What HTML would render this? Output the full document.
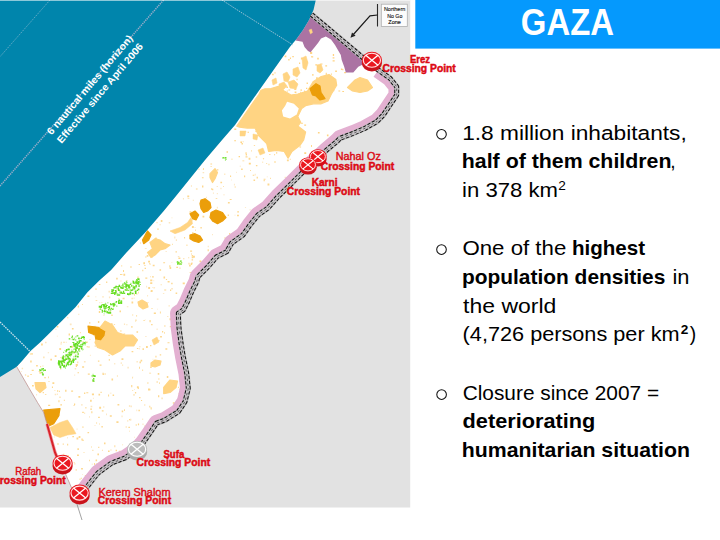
<!DOCTYPE html>
<html><head><meta charset="utf-8"><title>GAZA</title>
<style>
html,body{margin:0;padding:0;background:#fff;}
body{width:720px;height:540px;overflow:hidden;font-family:"Liberation Sans",sans-serif;}
svg{display:block;}
</style></head><body>
<svg width="720" height="540" viewBox="0 0 720 540" font-family="'Liberation Sans', sans-serif">
<defs>
<clipPath id="mapclip"><rect x="0" y="0" width="410.2" height="507.4"/></clipPath>
<clipPath id="landclip"><polygon points="311.5,14.5 309,20 303,30 296.5,39 290,46.7 282,58 270,75 258,92 246,109 235,125 222,140 205,160 188.9,180 176,196 163.7,211 145.6,231.9 126,253 111.1,270 99.3,280.4 87.4,292.2 75.6,307 62.2,320.4 48.9,333.7 40,342.6 30.5,351 22,361 16.7,366.7 28.7,387.5 37.5,402.5 43.7,412.5 48.7,430 55,452.5 66,475 72.5,490 83,492 90,483 98,473 111.7,463 125,458 136.7,450 143,443 150,433 156.7,423 165,420 178.3,411.7 185,401.7 188.3,388.3 186.7,373.3 183.3,356.7 181,343 179,328 178.3,313.3 183.3,310 187.5,301.7 191.7,291.7 196.7,281.7 198,276.7 208,266.7 216.7,256.7 226.7,251.7 231.7,243 243,235 250,225 258,215 268,208 278,196.7 290,185 300,175 308,167 318,158 326.7,150 336.7,141.7 340,138.3 353.3,133.3 365,128.3 376.7,121.7 383.3,115 390,105 396.7,95 396.7,86.7 390,78.3 378.3,70 371,64.5"/></clipPath>
<pattern id="gp" width="4" height="4" patternUnits="userSpaceOnUse">
<rect width="4" height="4" fill="#ffffff"/>
<rect x="0" y="0" width="2" height="1.6" fill="#66dd22"/><rect x="2.2" y="2" width="1.6" height="1.8" fill="#66dd22"/><rect x="0.6" y="2.6" width="1" height="1" fill="#a5e36f"/>
</pattern>
</defs>
<rect width="720" height="540" fill="#ffffff"/>
<g clip-path="url(#mapclip)">
<rect x="0" y="0" width="411" height="508" fill="#e2e2e2"/>
<polygon points="311.5,14.5 309,20 303,30 296.5,39 290,46.7 282,58 270,75 258,92 246,109 235,125 222,140 205,160 188.9,180 176,196 163.7,211 145.6,231.9 126,253 111.1,270 99.3,280.4 87.4,292.2 75.6,307 62.2,320.4 48.9,333.7 40,342.6 30.5,351 22,361 16.7,366.7 28.7,387.5 37.5,402.5 43.7,412.5 48.7,430 55,452.5 66,475 72.5,490 83,492 90,483 98,473 111.7,463 125,458 136.7,450 143,443 150,433 156.7,423 165,420 178.3,411.7 185,401.7 188.3,388.3 186.7,373.3 183.3,356.7 181,343 179,328 178.3,313.3 183.3,310 187.5,301.7 191.7,291.7 196.7,281.7 198,276.7 208,266.7 216.7,256.7 226.7,251.7 231.7,243 243,235 250,225 258,215 268,208 278,196.7 290,185 300,175 308,167 318,158 326.7,150 336.7,141.7 340,138.3 353.3,133.3 365,128.3 376.7,121.7 383.3,115 390,105 396.7,95 396.7,86.7 390,78.3 378.3,70 371,64.5" fill="#ffffff"/>
<path d="M77.4,448.2h1.5v1.8h-1.5zM49.1,413.0h1.5v1.3h-1.5zM82.0,303.9h0.8v1.1h-0.8zM53.9,421.3h1.3v0.9h-1.3zM75.8,366.1h1.2v0.9h-1.2zM38.7,370.9h1.3v1.0h-1.3zM178.2,407.7h1.6v2.0h-1.6zM132.2,314.6h1.0v0.9h-1.0zM164.4,325.2h1.0v1.6h-1.0zM162.0,330.9h1.2v1.5h-1.2zM83.5,452.0h1.0v0.8h-1.0zM117.5,403.9h1.8v1.7h-1.8zM105.0,373.4h0.9v1.1h-0.9zM120.0,274.0h1.7v0.9h-1.7zM95.6,300.2h1.7v0.7h-1.7zM155.4,355.8h1.1v1.6h-1.1zM108.5,354.8h1.2v1.3h-1.2zM134.6,450.8h2.0v0.9h-2.0zM70.9,360.0h1.5v1.2h-1.5zM75.7,364.1h2.1v2.0h-2.1zM159.5,269.2h1.6v1.6h-1.6zM71.1,390.4h2.0v1.4h-2.0zM131.3,325.9h1.2v1.9h-1.2zM136.7,361.0h0.8v1.6h-0.8zM84.0,392.6h1.3v1.4h-1.3zM117.1,348.9h0.9v1.0h-0.9zM173.1,384.9h0.9v1.9h-0.9zM111.3,314.6h1.4v1.5h-1.4zM59.0,390.7h0.9v1.4h-0.9zM121.2,274.0h1.3v0.8h-1.3zM95.6,459.6h1.5v1.7h-1.5zM150.2,282.2h2.1v1.7h-2.1zM87.4,295.6h2.0v1.5h-2.0zM153.3,287.4h1.8v0.8h-1.8zM60.7,343.2h0.7v1.5h-0.7zM56.7,326.1h1.7v1.3h-1.7zM172.8,402.2h1.9v1.5h-1.9zM78.7,436.0h1.7v1.9h-1.7zM41.1,343.4h1.7v2.0h-1.7zM144.1,265.3h1.5v0.8h-1.5zM114.4,445.3h0.9v2.0h-0.9zM136.1,315.3h1.0v1.3h-1.0zM164.2,392.8h0.9v0.7h-0.9zM51.9,386.4h1.1v1.7h-1.1zM170.6,382.6h1.7v1.8h-1.7zM183.2,258.3h1.2v0.9h-1.2zM106.3,461.9h1.8v0.7h-1.8zM136.9,348.0h1.4v0.9h-1.4zM165.4,348.2h1.9v1.6h-1.9zM121.3,265.3h0.9v1.2h-0.9zM100.5,391.8h1.2v1.2h-1.2zM135.4,319.6h1.1v1.4h-1.1zM65.1,389.8h1.4v2.0h-1.4zM190.7,263.1h1.5v1.8h-1.5zM128.9,405.4h1.2v1.1h-1.2zM72.3,435.9h1.7v1.4h-1.7zM129.3,338.1h1.5v1.3h-1.5zM75.6,489.3h1.4v1.2h-1.4zM97.9,360.6h1.5v1.1h-1.5zM71.9,328.1h1.7v1.5h-1.7zM178.5,393.3h0.8v1.0h-0.8zM81.4,438.5h1.3v1.9h-1.3zM31.7,369.8h2.0v1.1h-2.0zM141.2,306.7h1.3v1.0h-1.3zM131.5,301.6h1.7v2.0h-1.7zM123.4,273.8h1.8v1.9h-1.8zM52.4,382.3h1.9v1.6h-1.9zM178.7,305.3h1.2v1.7h-1.2zM131.6,351.1h1.7v1.2h-1.7zM29.9,353.2h0.8v1.6h-0.8zM77.5,372.2h1.5v1.1h-1.5zM179.1,388.7h2.1v0.8h-2.1zM125.6,426.6h1.2v0.8h-1.2zM152.0,276.3h1.8v1.3h-1.8zM112.6,394.5h1.5v1.6h-1.5zM123.5,333.4h1.7v1.1h-1.7zM142.4,435.9h1.8v1.1h-1.8zM97.9,320.9h1.4v2.0h-1.4zM101.8,410.3h1.8v1.2h-1.8zM150.1,276.3h0.7v0.9h-0.7zM30.3,373.9h1.5v1.0h-1.5zM153.8,312.5h2.1v1.4h-2.1zM129.4,336.6h1.8v1.3h-1.8zM75.7,469.1h0.9v1.7h-0.9zM89.1,459.8h0.8v1.5h-0.8zM90.5,472.8h2.0v1.6h-2.0zM65.1,357.8h1.0v1.0h-1.0zM150.6,407.3h1.1v2.1h-1.1zM57.3,390.0h0.9v1.9h-0.9zM169.5,318.3h1.8v1.9h-1.8zM68.6,333.6h1.4v1.9h-1.4zM47.8,416.8h1.5v1.3h-1.5zM82.0,439.8h1.9v1.0h-1.9zM137.4,276.4h1.2v2.0h-1.2zM188.5,262.8h1.0v1.8h-1.0zM138.6,264.0h1.4v1.0h-1.4zM74.4,463.2h0.9v1.4h-0.9zM43.4,356.5h1.0v1.7h-1.0zM106.1,281.6h1.2v1.4h-1.2zM178.0,337.8h1.0v2.1h-1.0zM27.4,375.6h1.3v1.5h-1.3zM138.4,409.8h1.5v1.5h-1.5zM88.7,330.4h1.3v2.1h-1.3zM86.6,346.3h1.3v0.9h-1.3zM191.7,256.2h1.6v2.0h-1.6zM63.8,399.8h1.2v1.0h-1.2zM176.3,266.7h1.7v1.2h-1.7zM131.2,385.1h1.1v2.1h-1.1zM166.8,375.9h1.5v2.1h-1.5zM60.3,404.2h1.7v1.2h-1.7zM142.5,348.3h1.4v1.6h-1.4zM136.5,331.3h1.6v1.5h-1.6zM58.4,400.2h1.1v2.0h-1.1zM101.4,426.0h1.4v1.4h-1.4zM179.5,380.3h1.4v1.4h-1.4zM159.9,311.6h0.9v1.9h-0.9zM99.2,406.8h1.9v2.0h-1.9zM169.3,265.3h1.2v1.9h-1.2zM160.7,284.2h0.9v1.1h-0.9zM158.2,378.6h1.3v0.8h-1.3zM139.5,361.5h1.4v1.8h-1.4zM150.5,290.5h1.7v1.2h-1.7zM109.6,311.3h1.2v1.2h-1.2zM54.5,390.2h0.8v0.9h-0.8zM143.5,320.1h1.2v1.0h-1.2zM163.5,276.6h1.6v1.9h-1.6zM54.7,355.3h1.8v1.6h-1.8zM96.1,342.0h1.7v1.1h-1.7zM90.2,408.6h1.8v1.2h-1.8zM86.3,392.2h2.0v1.0h-2.0zM84.0,412.7h1.2v0.8h-1.2zM150.0,344.9h1.4v1.4h-1.4zM99.6,364.5h1.9v1.3h-1.9zM101.5,466.0h1.3v1.4h-1.3zM108.0,450.4h1.6v1.7h-1.6zM136.9,386.3h1.8v1.8h-1.8zM149.6,388.8h0.8v1.7h-0.8zM142.3,369.4h0.8v1.7h-0.8zM91.9,393.4h2.1v1.8h-2.1zM170.0,289.5h1.2v1.4h-1.2zM67.2,317.2h1.1v1.1h-1.1zM167.7,386.7h1.4v1.3h-1.4zM167.3,315.9h1.0v0.8h-1.0zM112.3,343.6h1.3v1.4h-1.3zM120.4,341.7h1.8v1.0h-1.8zM178.1,386.8h0.8v1.1h-0.8zM111.7,351.9h1.5v1.2h-1.5zM67.1,443.7h1.1v1.7h-1.1zM158.0,395.3h1.3v2.0h-1.3zM96.5,463.1h0.8v1.3h-0.8zM130.0,266.6h1.9v0.8h-1.9zM122.6,297.7h2.0v1.5h-2.0zM157.7,373.1h1.6v1.6h-1.6zM164.2,289.5h2.0v1.0h-2.0zM91.3,411.2h1.1v2.0h-1.1zM138.0,291.7h0.8v1.7h-0.8zM120.1,330.5h1.5v0.9h-1.5zM176.8,331.9h1.9v0.9h-1.9zM85.4,406.9h1.0v1.5h-1.0zM36.1,365.1h1.7v1.3h-1.7zM136.8,282.1h1.9v0.9h-1.9zM181.6,379.7h1.1v1.2h-1.1zM149.1,372.7h2.0v0.8h-2.0zM103.4,459.8h1.5v1.5h-1.5zM66.6,466.7h1.9v1.0h-1.9zM179.0,262.7h1.5v2.1h-1.5zM79.2,478.8h1.6v0.8h-1.6zM77.3,361.6h1.0v1.7h-1.0zM116.2,277.7h1.5v1.8h-1.5zM122.4,364.4h0.7v1.4h-0.7zM42.7,392.0h1.2v1.2h-1.2zM134.1,293.8h0.9v2.0h-0.9zM77.0,454.6h1.9v1.4h-1.9zM171.2,282.7h1.4v1.5h-1.4zM40.2,365.9h0.9v1.4h-0.9zM107.2,342.0h1.0v1.3h-1.0zM61.3,461.6h1.4v1.9h-1.4zM104.0,442.5h1.5v1.7h-1.5zM59.4,432.8h0.9v1.1h-0.9zM109.1,324.2h1.9v0.8h-1.9zM119.5,310.4h1.5v1.8h-1.5zM142.3,269.7h1.0v1.5h-1.0zM189.1,264.8h1.6v1.7h-1.6zM160.1,336.1h1.8v1.3h-1.8zM178.4,257.6h2.0v1.3h-2.0zM62.1,428.9h1.7v0.9h-1.7zM76.9,486.3h2.1v1.8h-2.1zM102.5,372.9h1.8v2.0h-1.8zM149.3,405.8h1.0v1.6h-1.0zM148.2,287.0h1.9v2.0h-1.9zM121.5,358.2h1.9v1.8h-1.9zM169.8,325.9h2.0v1.4h-2.0zM182.7,282.5h2.1v1.8h-2.1zM63.3,453.7h1.0v1.0h-1.0zM98.8,311.1h1.4v2.0h-1.4zM137.9,423.4h1.2v1.8h-1.2zM156.5,416.8h2.0v1.9h-2.0zM78.4,396.0h1.9v1.8h-1.9zM20.8,370.9h0.7v0.9h-0.7zM159.7,354.2h1.5v1.3h-1.5zM77.7,305.6h1.2v1.9h-1.2zM126.5,324.2h0.8v1.1h-0.8zM140.6,359.8h1.6v1.8h-1.6zM87.8,373.4h2.0v1.4h-2.0zM162.9,293.4h1.4v0.7h-1.4zM98.2,446.8h1.1v1.2h-1.1zM37.4,386.0h1.9v1.4h-1.9zM84.8,475.1h2.0v1.6h-2.0zM82.2,411.7h1.6v1.2h-1.6zM109.8,415.3h2.0v1.4h-2.0zM82.6,486.4h0.8v1.9h-0.8zM137.6,387.1h1.3v1.8h-1.3zM149.0,263.3h1.2v0.9h-1.2zM44.9,394.2h1.5v0.8h-1.5zM87.5,432.1h1.6v1.1h-1.6zM151.1,324.0h1.5v1.3h-1.5zM158.4,415.3h1.2v2.0h-1.2zM142.1,418.7h1.1v0.9h-1.1zM118.9,450.7h1.8v1.2h-1.8zM44.1,377.3h1.9v0.9h-1.9zM147.0,295.5h1.1v0.8h-1.1zM71.2,345.8h2.1v2.0h-2.1zM182.3,301.8h1.1v1.3h-1.1zM87.8,346.4h2.0v1.1h-2.0zM97.4,453.4h1.6v1.8h-1.6zM150.2,366.4h1.5v1.6h-1.5zM149.5,320.3h1.2v2.0h-1.2zM111.0,323.3h1.6v1.1h-1.6zM152.7,264.8h1.9v1.5h-1.9zM80.8,477.8h1.1v1.0h-1.1zM32.0,385.0h1.8v1.6h-1.8zM91.0,446.4h0.9v1.1h-0.9zM129.0,419.0h1.8v1.3h-1.8zM78.8,348.0h1.8v1.2h-1.8zM111.5,378.5h1.6v2.0h-1.6zM31.3,352.9h1.4v1.9h-1.4zM134.9,391.9h1.3v1.5h-1.3zM67.1,455.2h1.8v1.9h-1.8zM46.0,414.2h1.8v1.4h-1.8zM141.0,400.1h1.1v0.8h-1.1zM123.8,450.3h1.1v1.0h-1.1zM158.0,340.3h1.7v0.8h-1.7zM164.2,332.1h0.7v1.6h-0.7zM30.2,360.6h1.5v1.8h-1.5zM128.3,335.6h1.2v1.5h-1.2zM57.5,443.1h1.0v1.9h-1.0zM159.1,382.3h0.7v1.8h-0.7zM24.9,374.6h1.3v0.8h-1.3zM128.4,426.7h1.5v1.3h-1.5zM108.1,394.5h1.0v1.9h-1.0zM189.6,271.9h1.4v0.9h-1.4zM98.1,416.8h1.7v1.3h-1.7zM89.3,322.0h1.0v1.7h-1.0zM108.8,359.0h1.0v1.7h-1.0zM116.4,421.2h2.1v1.7h-2.1zM144.3,425.5h0.8v1.0h-0.8zM144.2,404.4h1.1v1.2h-1.1zM48.1,404.8h2.1v1.1h-2.1zM81.1,468.1h1.8v1.3h-1.8zM101.9,449.8h0.9v0.9h-0.9zM116.9,375.4h1.0v1.1h-1.0zM146.0,346.0h1.8v1.9h-1.8zM56.8,393.7h1.2v0.7h-1.2zM172.9,381.6h0.8v1.2h-0.8zM103.3,406.6h1.0v1.0h-1.0zM175.8,345.7h0.8v1.5h-0.8zM98.5,393.8h1.6v1.7h-1.6zM144.6,267.7h1.4v1.3h-1.4zM135.7,424.2h1.0v1.6h-1.0zM139.0,366.8h0.9v2.0h-0.9zM123.0,269.9h1.0v2.1h-1.0zM59.3,348.0h1.8v1.9h-1.8zM129.0,430.8h0.8v0.8h-0.8zM57.8,414.2h2.0v1.6h-2.0zM178.1,317.3h0.9v0.7h-0.9zM150.2,279.6h2.1v1.7h-2.1zM48.0,376.4h0.8v1.8h-0.8zM115.6,449.7h1.4v1.6h-1.4zM122.3,444.5h0.8v0.8h-0.8zM113.8,324.0h1.3v0.7h-1.3zM148.1,260.7h1.9v1.8h-1.9zM98.8,284.0h1.6v1.0h-1.6zM165.9,279.0h1.2v1.1h-1.2zM151.1,290.0h1.5v2.1h-1.5zM152.2,256.6h0.8v0.9h-0.8zM139.1,396.9h1.4v1.3h-1.4zM90.1,399.8h1.6v2.0h-1.6zM143.3,262.3h1.7v1.9h-1.7zM94.1,463.1h1.0v2.0h-1.0zM96.0,422.4h1.1v1.1h-1.1zM79.9,331.9h0.8v1.3h-0.8zM149.5,320.0h1.0v1.3h-1.0zM76.5,437.6h1.8v1.9h-1.8zM156.7,381.1h0.8v1.9h-0.8zM74.0,403.6h1.2v1.5h-1.2zM186.1,293.2h1.4v1.6h-1.4zM90.1,471.6h1.7v2.1h-1.7zM69.4,469.8h0.7v1.1h-0.7zM50.3,358.8h1.7v1.7h-1.7zM148.3,433.5h1.0v1.1h-1.0zM121.7,410.5h1.5v1.7h-1.5zM39.4,372.0h2.1v1.7h-2.1zM67.0,437.4h0.9v0.8h-0.9zM72.1,351.9h1.7v1.3h-1.7zM145.3,277.5h2.0v1.2h-2.0zM163.2,262.3h1.9v1.0h-1.9zM135.4,320.8h0.7v1.0h-0.7zM175.6,292.5h1.6v1.5h-1.6zM133.7,297.8h0.9v0.8h-0.9zM132.2,390.0h1.0v0.8h-1.0zM82.5,426.3h0.9v1.8h-0.9zM63.3,341.8h1.4v0.9h-1.4zM62.7,443.6h1.1v1.2h-1.1zM151.5,308.1h1.0v1.0h-1.0zM86.1,341.6h1.6v1.4h-1.6zM169.6,267.0h1.6v1.9h-1.6zM99.1,423.6h0.8v0.9h-0.8zM102.5,296.2h1.0v1.3h-1.0zM82.1,366.2h2.0v1.5h-2.0zM148.0,388.4h1.9v2.0h-1.9zM167.6,281.1h2.0v1.4h-2.0zM168.7,305.3h0.8v1.1h-0.8zM178.9,364.2h1.7v0.8h-1.7zM97.9,330.3h1.0v1.6h-1.0zM132.3,377.0h0.7v1.4h-0.7zM147.4,382.3h1.0v1.4h-1.0zM124.0,409.3h0.9v1.8h-0.9zM167.5,342.2h2.0v1.0h-2.0zM59.0,396.7h2.0v0.8h-2.0zM95.5,288.3h1.0v1.7h-1.0z" fill="#fdd88f"/>
<path d="M89.1,416.0h0.7v1.7h-0.7zM60.1,368.1h1.3v1.7h-1.3zM126.8,306.3h1.6v0.9h-1.6zM75.3,351.5h1.1v1.4h-1.1zM64.3,362.6h1.3v1.5h-1.3zM109.8,392.8h1.7v0.8h-1.7zM120.7,362.2h1.1v1.7h-1.1zM182.0,351.6h0.8v1.7h-0.8zM69.8,323.5h1.8v1.7h-1.8zM92.3,380.5h1.6v1.6h-1.6zM132.4,376.5h0.8v1.0h-0.8zM133.2,394.0h1.6v1.7h-1.6zM185.5,300.7h0.8v1.7h-0.8zM118.1,298.0h1.5v1.0h-1.5zM60.7,341.8h1.3v1.4h-1.3zM127.4,366.8h1.4v1.6h-1.4zM21.7,367.7h1.4v1.5h-1.4zM131.4,297.7h1.8v1.6h-1.8zM60.1,357.1h1.8v0.9h-1.8zM174.8,310.1h1.5v1.1h-1.5zM134.1,436.8h0.8v0.9h-0.8zM89.9,354.7h0.8v1.3h-0.8zM182.1,391.7h1.1v1.5h-1.1zM95.2,296.6h1.2v0.7h-1.2zM136.3,293.1h1.1v1.8h-1.1zM130.4,405.4h1.5v1.8h-1.5zM53.8,436.6h1.0v1.0h-1.0zM161.3,397.5h1.6v1.7h-1.6zM121.3,302.0h0.7v1.3h-0.7zM144.8,319.6h0.8v0.7h-0.8zM49.8,419.9h0.7v1.0h-0.7zM65.6,423.5h1.8v0.7h-1.8zM186.8,290.2h1.1v1.3h-1.1zM75.1,353.9h1.2v1.0h-1.2zM127.3,420.1h1.0v1.6h-1.0zM145.3,336.0h1.2v0.9h-1.2zM179.8,387.8h0.8v0.9h-0.8zM139.1,346.3h1.5v1.0h-1.5zM36.2,393.9h0.9v1.5h-0.9zM134.1,388.9h0.9v0.9h-0.9zM120.2,280.6h1.4v1.0h-1.4zM64.5,355.4h1.3v1.5h-1.3zM130.0,418.8h1.4v1.7h-1.4zM55.2,328.7h1.4v1.0h-1.4zM156.6,328.4h1.0v1.5h-1.0zM108.4,290.8h1.7v1.7h-1.7zM99.4,301.9h0.8v1.3h-0.8zM109.7,341.0h1.5v1.3h-1.5zM153.4,280.2h0.8v1.1h-0.8zM103.2,314.9h1.4v0.9h-1.4zM74.7,368.0h1.5v1.5h-1.5zM83.9,360.9h1.7v1.7h-1.7zM126.4,279.9h1.2v1.4h-1.2zM42.2,365.4h1.4v1.0h-1.4zM152.6,358.7h0.8v1.1h-0.8zM152.1,287.0h0.8v0.8h-0.8zM48.2,381.0h1.6v0.9h-1.6zM93.2,335.1h0.8v1.0h-0.8zM187.1,282.7h1.0v1.5h-1.0zM123.9,323.4h1.2v1.5h-1.2zM146.2,285.7h0.9v1.8h-0.9zM78.3,313.8h1.0v1.2h-1.0zM190.4,290.2h1.6v1.1h-1.6zM49.7,431.5h1.1v0.9h-1.1zM92.0,449.7h1.6v1.3h-1.6zM65.7,341.7h1.1v1.1h-1.1zM90.6,405.7h1.7v1.5h-1.7zM145.2,433.9h1.6v1.0h-1.6zM132.8,345.2h1.6v0.8h-1.6zM112.7,334.7h1.6v1.1h-1.6zM171.2,288.0h1.7v1.5h-1.7zM136.4,409.6h0.8v1.7h-0.8zM114.2,363.0h1.1v1.6h-1.1zM56.8,335.7h1.0v0.8h-1.0zM157.0,308.8h0.8v0.8h-0.8zM147.5,302.0h1.2v1.1h-1.2zM73.3,404.9h1.7v1.2h-1.7zM73.6,462.1h1.3v0.8h-1.3zM121.0,451.5h1.3v1.2h-1.3zM91.6,463.7h1.4v0.9h-1.4zM82.3,341.1h1.8v1.5h-1.8zM94.4,425.0h1.2v0.8h-1.2zM110.1,449.4h1.6v1.1h-1.6zM58.2,431.5h1.6v0.9h-1.6zM94.6,345.2h1.5v1.7h-1.5zM76.6,428.5h0.9v1.3h-0.9zM106.1,413.4h0.9v1.8h-0.9zM156.8,298.5h1.7v1.3h-1.7zM82.2,474.0h0.9v0.7h-0.9zM116.3,289.1h1.4v1.6h-1.4zM92.9,397.7h1.0v1.0h-1.0zM92.3,376.6h1.2v0.8h-1.2zM143.3,432.4h1.0v1.0h-1.0zM108.9,296.6h1.4v1.7h-1.4zM54.7,393.8h1.5v1.5h-1.5zM142.5,423.4h1.0v1.6h-1.0zM179.1,267.5h1.7v1.2h-1.7zM157.1,415.6h0.9v1.2h-0.9zM77.8,436.7h1.0v0.9h-1.0zM47.7,352.2h1.4v1.0h-1.4zM74.3,374.6h0.9v1.2h-0.9zM101.1,301.9h1.4v0.9h-1.4zM89.4,338.9h1.2v1.1h-1.2zM138.8,347.9h0.9v1.7h-0.9zM81.0,404.3h1.7v1.1h-1.7zM94.4,325.7h1.3v1.4h-1.3zM45.0,341.7h1.6v1.6h-1.6zM121.5,415.5h1.1v1.7h-1.1zM114.5,350.4h0.9v0.8h-0.9zM102.5,372.5h1.1v1.7h-1.1z" fill="#fce6c0"/>
<path d="M189.5,211.2h1.9v1.5h-1.9zM211.1,188.3h1.2v1.5h-1.2zM263.6,180.0h1.2v1.2h-1.2zM191.7,255.0h1.4v1.1h-1.4zM186.5,244.5h0.9v1.6h-0.9zM140.1,242.6h0.9v1.0h-0.9zM145.2,256.4h1.3v1.0h-1.3zM250.4,222.5h0.8v0.9h-0.8zM160.8,220.1h1.6v2.0h-1.6zM191.3,262.6h1.3v1.2h-1.3zM250.0,170.1h0.9v0.9h-0.9zM189.7,234.8h0.8v1.4h-0.8zM245.7,153.9h1.3v1.7h-1.3zM227.9,201.9h1.8v1.5h-1.8zM187.3,195.5h1.9v1.8h-1.9zM195.2,229.4h0.7v1.7h-0.7zM263.6,209.2h0.7v1.7h-0.7zM200.4,227.0h1.4v1.6h-1.4zM199.5,260.4h1.9v1.9h-1.9zM234.6,186.4h1.2v1.0h-1.2zM184.1,237.1h1.0v1.5h-1.0zM156.9,248.6h1.3v1.1h-1.3zM286.9,159.5h1.9v1.7h-1.9zM155.3,237.5h1.4v1.9h-1.4zM229.7,199.1h1.9v0.8h-1.9zM262.1,161.8h1.1v0.8h-1.1zM253.5,179.5h1.6v1.5h-1.6zM252.7,174.7h1.6v1.1h-1.6zM193.0,255.8h1.9v2.0h-1.9zM202.5,215.8h1.8v1.7h-1.8zM207.6,249.3h1.2v1.9h-1.2zM210.4,163.6h1.7v0.9h-1.7zM245.5,156.2h2.0v1.4h-2.0zM255.9,165.1h1.5v1.2h-1.5zM172.3,243.7h0.7v1.3h-0.7zM144.8,247.9h1.9v0.7h-1.9zM209.0,203.9h1.6v1.6h-1.6zM188.3,257.3h0.9v0.9h-0.9zM268.5,163.8h0.9v1.4h-0.9zM263.6,178.8h1.9v1.0h-1.9zM237.2,211.3h1.8v1.3h-1.8zM146.7,255.1h1.7v1.6h-1.7zM256.6,176.7h1.3v1.8h-1.3zM157.3,228.6h1.4v1.2h-1.4zM209.9,206.7h1.0v1.2h-1.0zM224.2,237.6h1.5v0.9h-1.5zM280.6,192.3h1.9v2.0h-1.9zM223.1,186.1h0.7v1.0h-0.7zM237.0,214.7h1.9v1.6h-1.9zM191.6,259.2h1.5v1.4h-1.5zM191.3,219.6h1.1v2.0h-1.1zM171.5,261.9h0.8v0.7h-0.8zM224.0,173.7h1.4v0.9h-1.4zM251.2,150.2h0.8v1.3h-0.8zM226.6,151.0h1.2v1.9h-1.2zM230.2,244.8h0.7v1.0h-0.7zM160.5,245.7h0.8v1.9h-0.8zM175.5,251.3h1.4v1.1h-1.4zM248.6,157.7h1.8v2.0h-1.8zM148.8,235.8h1.1v0.9h-1.1zM191.9,226.1h1.9v2.0h-1.9zM241.1,168.5h1.6v1.4h-1.6zM191.0,253.5h1.0v0.9h-1.0zM230.1,242.1h0.9v1.4h-0.9zM227.7,214.5h1.2v1.4h-1.2zM201.9,177.2h1.7v1.0h-1.7zM270.1,177.8h0.8v1.3h-0.8zM195.9,188.6h1.7v1.0h-1.7zM206.9,207.9h1.9v1.5h-1.9zM202.0,185.5h1.4v1.9h-1.4zM202.9,169.1h0.8v0.9h-0.8zM156.6,221.9h0.8v1.4h-0.8zM216.8,169.3h1.6v1.3h-1.6zM242.4,160.5h1.9v0.7h-1.9zM244.0,175.6h1.2v1.6h-1.2zM203.2,167.9h0.8v1.4h-0.8zM213.0,172.3h1.6v1.3h-1.6zM267.5,183.6h1.9v1.8h-1.9zM210.5,166.2h1.3v0.9h-1.3zM266.1,163.0h1.1v0.8h-1.1zM229.1,233.1h1.2v1.6h-1.2zM192.3,231.9h1.1v2.0h-1.1zM145.5,233.5h1.8v1.5h-1.8zM156.4,250.3h1.6v0.8h-1.6zM194.7,227.2h0.7v0.8h-0.7zM190.1,250.6h2.0v1.1h-2.0zM212.1,188.8h1.2v1.4h-1.2zM230.0,175.6h1.1v1.4h-1.1zM215.7,198.2h1.6v0.9h-1.6zM220.4,181.7h1.7v1.6h-1.7z" fill="#fdd88f"/>
<path d="M262.8,209.5h1.0v1.7h-1.0zM216.8,193.1h1.0v1.1h-1.0zM212.0,234.1h0.9v1.2h-0.9zM190.9,185.2h1.1v1.5h-1.1zM254.7,173.8h1.0v1.6h-1.0zM241.3,227.8h1.4v1.5h-1.4zM266.7,176.4h1.1v0.8h-1.1zM212.9,192.5h1.0v1.2h-1.0zM204.7,198.4h1.0v1.8h-1.0zM177.8,256.0h1.6v1.1h-1.6zM202.6,172.1h1.6v1.1h-1.6zM150.3,253.8h1.2v1.1h-1.2zM231.2,179.4h0.7v1.1h-0.7zM193.2,237.5h1.1v1.4h-1.1zM236.2,171.7h0.7v1.4h-0.7zM233.9,183.8h0.9v1.6h-0.9zM284.6,176.8h1.3v1.3h-1.3zM185.3,224.1h1.4v1.3h-1.4zM182.9,197.9h1.1v1.7h-1.1zM149.7,263.4h1.0v1.6h-1.0zM171.4,217.5h1.1v0.7h-1.1zM175.8,239.3h1.2v1.8h-1.2zM168.7,221.9h1.6v1.6h-1.6zM223.2,194.5h1.6v0.8h-1.6zM174.2,236.6h1.2v1.8h-1.2zM192.7,199.7h1.3v1.0h-1.3zM249.3,209.4h1.8v0.9h-1.8zM216.8,206.8h1.1v1.6h-1.1zM165.6,250.9h1.1v1.1h-1.1zM234.5,214.8h1.0v0.8h-1.0zM220.4,187.7h1.1v1.6h-1.1zM187.6,198.0h1.8v1.1h-1.8zM198.3,168.6h1.4v1.4h-1.4zM205.9,196.7h1.0v1.6h-1.0zM207.7,245.7h1.1v1.5h-1.1zM244.9,207.2h1.2v0.9h-1.2zM159.4,224.2h1.5v1.0h-1.5zM239.6,165.7h1.4v0.9h-1.4zM216.6,186.1h1.3v0.8h-1.3zM212.2,220.9h0.8v1.0h-0.8z" fill="#fce6c0"/>
<path d="M316.1,77.3h1.7v1.9h-1.7zM306.4,61.1h1.4v2.0h-1.4zM306.0,87.7h1.3v1.4h-1.3zM342.3,91.1h1.7v0.9h-1.7zM310.1,51.7h2.1v2.2h-2.1zM320.5,63.4h2.0v1.0h-2.0zM329.5,76.0h0.8v2.0h-0.8zM294.6,91.5h1.8v1.5h-1.8zM332.6,60.2h2.1v1.3h-2.1zM311.2,56.0h1.0v1.2h-1.0zM280.1,96.0h2.1v2.0h-2.1zM344.1,72.0h1.9v1.2h-1.9zM338.4,90.5h1.8v1.1h-1.8zM263.2,96.3h1.6v1.7h-1.6zM332.6,57.2h1.8v1.4h-1.8zM325.7,72.8h1.1v2.1h-1.1zM280.3,87.2h2.0v1.1h-2.0zM317.6,69.8h1.1v1.1h-1.1zM340.9,68.4h1.5v1.5h-1.5zM322.1,93.8h1.3v1.1h-1.3zM286.3,86.6h1.7v1.4h-1.7zM302.2,57.7h2.1v1.5h-2.1zM300.6,89.3h1.1v1.8h-1.1zM286.8,90.6h0.9v1.2h-0.9zM312.2,74.1h1.3v1.6h-1.3zM274.6,71.9h0.8v1.9h-0.8zM277.9,91.5h1.6v1.6h-1.6zM311.3,56.3h1.9v1.2h-1.9zM332.6,89.3h1.7v1.9h-1.7zM294.3,83.7h2.1v1.1h-2.1zM300.9,57.5h1.1v2.0h-1.1zM289.9,57.4h1.1v1.6h-1.1zM272.1,73.8h1.6v1.4h-1.6zM300.3,91.8h0.8v2.1h-0.8zM324.1,78.5h1.6v1.1h-1.6zM325.3,65.3h1.8v1.1h-1.8zM306.6,82.4h1.3v1.5h-1.3zM317.2,57.7h1.6v1.8h-1.6zM264.1,91.9h2.0v0.9h-2.0zM299.0,62.5h1.2v1.4h-1.2zM288.4,89.4h1.8v1.0h-1.8zM284.6,55.4h1.8v1.9h-1.8zM344.6,60.5h0.9v1.9h-0.9zM292.1,96.6h1.3v1.2h-1.3zM261.5,97.4h1.5v1.4h-1.5zM294.3,88.4h2.0v1.5h-2.0zM335.2,70.4h1.7v1.6h-1.7zM296.5,78.7h1.1v1.6h-1.1zM332.8,54.0h1.3v2.0h-1.3zM343.0,50.7h1.7v1.7h-1.7zM330.9,73.5h1.0v1.2h-1.0zM319.1,86.4h1.1v1.7h-1.1zM314.1,82.9h0.8v1.4h-0.8zM284.2,79.9h1.3v1.0h-1.3zM315.3,64.3h1.9v1.2h-1.9zM304.1,90.4h1.0v1.8h-1.0zM261.1,96.8h0.8v1.8h-0.8zM288.2,59.0h1.4v1.5h-1.4zM292.3,56.1h1.5v1.2h-1.5zM342.1,69.2h1.4v1.1h-1.4z" fill="#ffd483"/>
<path d="M326.9,134.5h1.6v1.8h-1.6zM269.3,154.0h1.1v0.9h-1.1zM234.2,140.2h1.8v1.0h-1.8zM274.0,154.3h1.1v1.0h-1.1zM281.9,139.1h1.9v1.9h-1.9zM253.8,145.2h1.3v0.8h-1.3zM274.4,161.2h1.2v1.5h-1.2zM301.0,122.8h1.9v0.9h-1.9zM260.2,152.2h0.8v1.3h-0.8zM242.7,141.3h0.8v1.0h-0.8zM252.2,123.7h0.9v1.0h-0.9zM281.8,126.2h1.8v1.3h-1.8zM255.2,130.8h1.8v0.9h-1.8zM304.2,124.4h1.9v1.3h-1.9zM289.8,158.8h0.9v0.9h-0.9zM299.4,146.4h1.7v1.1h-1.7zM279.7,128.4h1.3v1.1h-1.3zM288.6,133.5h1.1v1.6h-1.1zM238.6,156.1h1.4v1.1h-1.4zM241.5,142.9h1.4v1.7h-1.4zM267.4,138.6h1.9v1.1h-1.9zM255.7,156.6h1.5v1.0h-1.5zM311.0,145.1h0.9v1.8h-0.9zM247.5,131.7h1.5v1.0h-1.5zM276.3,152.1h0.9v1.6h-0.9zM240.4,141.4h1.6v1.6h-1.6zM234.3,128.6h2.0v1.3h-2.0zM272.5,136.9h1.6v1.7h-1.6zM295.0,138.1h1.5v1.4h-1.5zM248.8,162.7h2.0v1.7h-2.0zM329.3,141.0h1.8v1.1h-1.8zM304.3,152.2h1.9v1.8h-1.9zM317.9,132.0h1.7v1.4h-1.7zM261.2,136.6h1.8v1.8h-1.8zM314.5,150.1h1.0v1.0h-1.0zM286.8,129.5h1.2v0.9h-1.2zM245.5,152.3h1.1v1.8h-1.1zM262.9,158.2h1.2v1.1h-1.2zM269.5,120.5h1.3v1.3h-1.3zM231.3,158.8h1.3v0.8h-1.3z" fill="#ffd483"/>
<polygon points="311.5,14.5 309,20 303,30 296.5,39 295.5,40.5 302.5,41.7 304.5,47 308,51 310.5,52.2 314,48 318,43 321,38.5 325.8,36.5 331,39.5 335,45 340.8,55 341.7,60 344.2,66.7 345.8,72.5 353.3,72.5 358.3,66.7 363.3,64.2 366,60.3" fill="#ab73a3"/>
<polygon points="261,90.3 265,88.8 271,88.5 278.4,86.3 284.2,91.1 291,95 297.8,94 307.5,91.1 313.4,81.4 321.2,76.5 329,74.6 335.8,79.5 336.7,85.3 331.9,93.1 328,100.9 321.2,103.8 313.4,103.8 305.6,105.7 301.7,108.6 297.8,116.4 300.7,122.3 297.8,126.1 301.7,129.1 305.6,132 303.7,139.8 299.8,145.6 292,151.4 288.1,158.2 284.2,151.4 276.4,150.5 268.6,151.4 266.7,143.7 258.9,135.9 255,128.1 247.2,128.1 239.5,127.1 236.8,126.2 247,111.3 259,94.3" fill="#ffd483" stroke="#ffd483" stroke-width="1.2" stroke-linejoin="round"/>
<polygon points="287.1,101.8 293.9,103.8 298.8,108.6 296.8,114.5 290,118.4 283.2,116.4 281.9,110.6 285.2,105.7" fill="#fff"/>
<polygon points="288,82 294,80 298,84 296,89 290,88" fill="#ffd483" stroke="#ffd483" stroke-width="0.6" stroke-linejoin="round"/>
<polygon points="240,131 246,131 245,136 240,136" fill="#ffd483" stroke="#ffd483" stroke-width="0.5" stroke-linejoin="round"/>
<polygon points="253,134 258,135 257,140 253,139" fill="#ffd483" stroke="#ffd483" stroke-width="0.5" stroke-linejoin="round"/>
<polygon points="258,150 263,148 265,153 260,155" fill="#ffd483" stroke="#ffd483" stroke-width="0.5" stroke-linejoin="round"/>
<polygon points="283,74 287,72 290,77 288,82 284,81" fill="#ffd483" stroke="#ffd483" stroke-width="0.6" stroke-linejoin="round"/>
<polygon points="293,69 298,67 300,73 297,77 293,75" fill="#ffd483" stroke="#ffd483" stroke-width="0.6" stroke-linejoin="round"/>
<polygon points="302,58 306,56 308,63 306,70 303,68" fill="#ffd483" stroke="#ffd483" stroke-width="0.6" stroke-linejoin="round"/>
<polygon points="317,65 321,64 323,70 320,73 317,71" fill="#ffd483" stroke="#ffd483" stroke-width="0.6" stroke-linejoin="round"/>
<polygon points="279,84 284,82 287,86 283,90 279,88" fill="#ffd483" stroke="#ffd483" stroke-width="0.6" stroke-linejoin="round"/>
<polygon points="272,80 276,78 277,83 273,85" fill="#ffd483" stroke="#ffd483" stroke-width="0.6" stroke-linejoin="round"/>
<polygon points="309,30 311.5,29 312.5,32.5 310.5,34" fill="#ffd483" stroke="#ffd483" stroke-width="0.4" stroke-linejoin="round"/>
<polygon points="347.5,87.5 355,80 360,77.5 367.5,80 372.5,87.5 367.5,91 360,92.5 352.5,91" fill="#ffd483" stroke="#ffd483" stroke-width="1.2" stroke-linejoin="round"/>
<polygon points="310,88.7 316,83.7 320,86 321,92.5 325,98.7 320,100 316,96 312.5,95" fill="#eb9e0a" stroke="#eb9e0a" stroke-width="1.2" stroke-linejoin="round"/>
<polygon points="210,173.7 215,168.7 217.5,172.5 215,178.7 212.5,182.5 210,177.5" fill="#ffd483" stroke="#ffd483" stroke-width="1.2" stroke-linejoin="round"/>
<polygon points="201,200 205,198.7 210,202.5 211,207.5 207.5,211 203.7,212.5 201,208.7 200,203.7" fill="#eb9e0a" stroke="#eb9e0a" stroke-width="1.2" stroke-linejoin="round"/>
<polygon points="211,212.5 216,210 222.5,212.5 226,217.5 222.5,221 217.5,223.7 212.5,221 210,217.5" fill="#eb9e0a" stroke="#eb9e0a" stroke-width="1.2" stroke-linejoin="round"/>
<polygon points="190,213.7 195,211 198.7,215 196,220 192.5,218.7" fill="#eb9e0a" stroke="#eb9e0a" stroke-width="1.2" stroke-linejoin="round"/>
<polygon points="190,235 195,233.7 200,236 202.5,240 198.7,242.5 193.7,241 190,238.7" fill="#eb9e0a" stroke="#eb9e0a" stroke-width="1.2" stroke-linejoin="round"/>
<polygon points="142.5,240 147.5,231 151,235 148.7,240 143.7,243.7" fill="#eb9e0a" stroke="#eb9e0a" stroke-width="1.2" stroke-linejoin="round"/>
<polygon points="150,242.5 155,238.7 160,240 165,243.7 170,245 165,248.7 160,250 155,255 151,257.5 147.5,252.5 152.5,248.7" fill="#ffd483" stroke="#ffd483" stroke-width="1.2" stroke-linejoin="round"/>
<polygon points="170,231 180,227.5 187.5,222.5 191,217.5 192.5,223.7 185,230 175,233.7" fill="#ffd483" stroke="#ffd483" stroke-width="0.6" stroke-linejoin="round"/>
<polygon points="88,326 100,327.5 106,331 105,336 101,341 96,340 95,335 88.7,332.5" fill="#eb9e0a" stroke="#eb9e0a" stroke-width="1.2" stroke-linejoin="round"/>
<polygon points="100,327.5 105,321 112.5,325 117.5,332.5 125,335 132.5,335 137.5,340 133.7,346 125,346 120,351 112.5,355 105,350 97.5,347.5 95,342.5 96,340 101,341 105,336 106,331" fill="#ffd483" stroke="#ffd483" stroke-width="1.2" stroke-linejoin="round"/>
<polygon points="138,302 142,300 147,303 148,307 143,309 139,306" fill="#ffd483" stroke="#ffd483" stroke-width="1.2" stroke-linejoin="round"/>
<polygon points="151,363 155,360 161,361 160,365 155,367 151,366" fill="#ffd483" stroke="#ffd483" stroke-width="1.2" stroke-linejoin="round"/>
<polygon points="163.7,387.5 170,380 177.5,381 176,387.5 170,392.5 163.7,393.7" fill="#ffd483" stroke="#ffd483" stroke-width="1.2" stroke-linejoin="round"/>
<polygon points="152,340 157,337 159,342 154,345" fill="#ffd483" stroke="#ffd483" stroke-width="0.6" stroke-linejoin="round"/>
<polygon points="43.7,410 60,408.7 58.7,416 53.7,423.7 48.7,426 46,418.7" fill="#eb9e0a" stroke="#eb9e0a" stroke-width="1.2" stroke-linejoin="round"/>
<polygon points="35,382.5 45,382.5 46,387.5 40,392.5 36,388.7" fill="#ffd483" stroke="#ffd483" stroke-width="1.2" stroke-linejoin="round"/>
<polygon points="50,427.5 60,422.5 67.5,420 72.5,427.5 76,433.7 67.5,435 60,437.5 53.7,435" fill="#ffd483" stroke="#ffd483" stroke-width="0.6" stroke-linejoin="round"/>
<path d="M126.6,283.9h1.1v1.5h-1.1zM123.2,292.0h1.1v1.2h-1.1zM127.9,284.4h2.0v1.0h-2.0zM136.6,282.6h1.1v1.1h-1.1zM119.6,291.8h1.2v1.6h-1.2zM129.8,284.0h1.5v1.1h-1.5zM131.1,285.0h1.3v1.6h-1.3zM124.0,282.7h1.8v1.7h-1.8zM117.6,287.6h1.5v1.9h-1.5zM132.6,282.5h2.0v1.1h-2.0zM123.0,290.7h1.2v1.5h-1.2zM111.2,289.2h1.8v1.6h-1.8zM137.1,283.0h1.7v1.6h-1.7zM128.0,285.5h1.8v1.9h-1.8zM124.7,289.1h1.1v1.7h-1.1zM135.5,282.5h1.4v1.7h-1.4zM111.8,290.9h1.1v1.2h-1.1zM122.1,292.7h1.1v1.4h-1.1zM127.0,293.0h1.8v1.9h-1.8zM118.6,284.8h1.4v1.9h-1.4zM117.2,286.0h1.6v1.3h-1.6zM121.4,287.4h2.0v1.7h-2.0zM126.0,288.3h1.7v1.1h-1.7zM122.2,284.5h1.1v1.6h-1.1zM110.8,292.8h1.6v1.1h-1.6zM124.4,286.0h1.1v1.1h-1.1zM135.7,280.3h1.0v2.0h-1.0zM136.8,289.7h1.3v1.4h-1.3zM115.2,291.0h1.5v1.8h-1.5zM135.4,290.4h1.2v1.5h-1.2zM118.0,289.6h2.0v1.4h-2.0zM139.6,283.9h1.2v1.2h-1.2zM129.3,293.3h1.8v1.5h-1.8zM130.2,291.5h1.1v1.7h-1.1zM133.3,285.9h1.2v1.8h-1.2zM120.3,291.5h2.0v1.4h-2.0zM132.5,280.5h1.1v1.2h-1.1zM114.5,292.0h2.0v1.7h-2.0zM120.9,287.1h1.1v1.0h-1.1zM123.4,292.8h1.8v1.2h-1.8zM117.5,287.8h1.3v1.4h-1.3zM114.1,293.4h1.4v1.5h-1.4zM128.1,293.3h1.4v1.9h-1.4zM125.6,286.8h1.5v1.0h-1.5zM115.3,285.8h1.7v1.6h-1.7zM120.1,286.6h1.6v1.8h-1.6zM113.3,287.3h1.2v1.3h-1.2zM133.9,286.4h1.6v1.8h-1.6zM138.3,285.3h1.6v1.5h-1.6zM125.9,289.6h1.5v1.5h-1.5zM131.7,292.8h1.9v1.3h-1.9zM136.0,279.9h1.1v1.4h-1.1zM112.3,289.2h1.8v1.9h-1.8zM114.8,290.0h1.7v1.1h-1.7zM116.8,294.2h1.4v1.5h-1.4zM126.0,283.4h1.2v1.3h-1.2zM127.2,285.2h1.0v1.3h-1.0zM129.3,286.5h1.1v2.0h-1.1zM111.2,291.1h1.3v1.1h-1.3zM135.4,282.0h1.1v1.9h-1.1zM127.7,289.8h1.1v1.1h-1.1zM131.3,284.9h1.1v1.9h-1.1zM129.7,291.5h1.1v1.9h-1.1zM112.1,292.6h1.5v1.3h-1.5zM126.3,281.7h1.1v1.2h-1.1zM133.5,282.6h1.5v1.2h-1.5zM132.7,287.1h1.2v1.5h-1.2zM135.4,285.1h1.5v1.8h-1.5zM122.2,286.4h1.7v2.0h-1.7zM120.6,292.1h1.7v1.6h-1.7zM122.5,283.6h1.1v1.1h-1.1zM112.2,290.5h1.3v1.2h-1.3zM112.6,292.2h1.9v1.7h-1.9zM119.1,285.5h1.2v1.4h-1.2zM118.2,294.3h2.0v1.5h-2.0zM117.6,294.4h1.3v1.4h-1.3zM124.7,286.3h1.2v1.5h-1.2zM128.2,286.8h1.8v1.7h-1.8zM132.2,292.9h1.4v1.3h-1.4zM132.4,288.8h1.0v1.8h-1.0zM137.7,288.5h1.7v1.8h-1.7zM114.3,286.7h1.5v1.8h-1.5zM134.9,292.0h1.6v1.9h-1.6zM131.2,289.6h1.2v1.0h-1.2zM113.3,292.1h1.6v1.6h-1.6zM129.4,289.4h1.5v1.0h-1.5zM134.7,290.6h1.5v1.5h-1.5zM132.8,281.9h1.1v1.3h-1.1zM132.6,281.1h1.7v2.0h-1.7zM125.3,284.2h1.5v1.7h-1.5zM133.8,288.3h1.6v1.1h-1.6zM133.0,282.8h1.6v1.0h-1.6zM130.8,289.6h1.7v1.3h-1.7zM126.0,285.6h1.5v1.1h-1.5zM137.7,281.0h2.0v1.9h-2.0zM123.9,282.2h1.2v1.9h-1.2z" fill="#66dd22"/>
<path d="M116.5,287.7h0.9v1.2h-0.9zM135.4,286.4h1.4v1.3h-1.4zM117.2,293.2h1.1v0.8h-1.1zM124.0,282.8h0.9v1.0h-0.9zM119.8,292.2h0.8v1.3h-0.8zM136.0,279.6h1.4v1.3h-1.4zM137.9,282.6h1.1v1.1h-1.1zM121.2,285.0h1.0v0.8h-1.0zM113.2,292.1h1.0v1.5h-1.0zM125.8,280.8h1.1v1.5h-1.1zM129.6,293.5h1.5v1.2h-1.5zM132.7,285.4h1.3v1.3h-1.3zM138.7,279.7h1.1v1.0h-1.1zM119.2,290.4h1.5v1.0h-1.5zM130.3,282.8h1.2v1.1h-1.2zM116.4,293.4h1.1v1.0h-1.1zM127.7,293.0h1.3v1.1h-1.3zM122.8,286.7h1.1v1.0h-1.1zM125.6,288.5h1.4v1.0h-1.4zM122.4,285.3h1.5v1.4h-1.5zM137.1,277.9h0.8v1.3h-0.8zM137.8,285.8h1.2v0.8h-1.2zM140.1,281.8h0.9v0.9h-0.9zM126.2,289.4h1.5v1.3h-1.5z" fill="#9beb6a"/>
<path d="M108.9,307.2h1.0v1.8h-1.0zM113.6,302.8h1.1v1.3h-1.1zM110.6,307.7h1.4v1.2h-1.4zM105.0,305.6h2.0v1.6h-2.0zM110.0,309.3h1.4v1.3h-1.4zM106.0,304.9h1.7v1.2h-1.7zM118.0,301.5h1.2v1.8h-1.2zM103.1,304.8h1.7v1.9h-1.7zM101.2,304.4h1.2v2.0h-1.2zM114.1,304.1h1.4v1.3h-1.4zM104.5,303.7h2.0v1.1h-2.0zM106.4,311.9h1.8v1.4h-1.8zM98.7,305.8h1.4v1.9h-1.4zM102.3,303.9h1.9v1.0h-1.9zM107.8,311.7h1.8v1.0h-1.8zM120.5,302.0h1.7v1.9h-1.7zM104.1,310.0h1.3v1.3h-1.3zM103.3,305.8h2.0v2.0h-2.0zM108.2,306.1h1.9v1.2h-1.9zM112.7,303.2h1.3v1.4h-1.3zM102.4,310.7h1.2v1.1h-1.2zM99.9,306.2h1.7v1.4h-1.7zM103.4,304.8h1.6v1.7h-1.6zM118.5,302.6h1.6v1.4h-1.6zM116.0,301.0h1.2v1.2h-1.2zM112.0,303.2h1.4v2.0h-1.4zM109.4,311.8h1.8v1.9h-1.8zM104.0,311.1h1.9v1.1h-1.9zM112.4,308.3h1.2v1.4h-1.2zM103.9,308.0h1.7v1.2h-1.7zM107.4,307.1h1.6v1.1h-1.6zM101.6,309.7h1.4v1.3h-1.4zM105.3,307.4h1.4v1.4h-1.4zM115.7,301.1h1.0v1.9h-1.0zM108.1,311.9h1.4v1.9h-1.4zM99.7,308.4h1.4v1.5h-1.4zM100.2,306.1h1.8v2.0h-1.8zM118.1,300.3h1.8v1.2h-1.8zM107.6,312.3h1.8v1.2h-1.8zM103.0,304.5h1.5v1.4h-1.5zM118.5,299.6h1.6v1.6h-1.6zM113.2,302.9h1.4v1.6h-1.4zM108.1,309.0h1.4v1.4h-1.4zM100.7,305.0h1.1v1.4h-1.1zM110.1,304.1h2.0v1.1h-2.0zM120.4,300.4h1.8v1.9h-1.8zM119.9,302.3h1.8v1.1h-1.8zM110.2,303.1h1.0v1.2h-1.0zM101.7,311.2h1.1v1.5h-1.1zM113.4,303.8h1.9v1.6h-1.9zM113.2,304.4h1.8v1.3h-1.8zM106.5,310.9h1.4v1.2h-1.4zM118.0,301.9h1.6v2.0h-1.6zM112.1,309.1h1.3v1.0h-1.3zM112.9,305.1h1.5v1.9h-1.5z" fill="#66dd22"/>
<path d="M103.1,307.7h1.2v0.9h-1.2zM113.1,305.8h0.9v1.5h-0.9zM99.9,308.7h1.4v1.3h-1.4zM107.5,302.1h0.8v1.3h-0.8zM111.6,303.6h1.3v1.1h-1.3zM103.7,313.3h0.8v1.2h-0.8zM121.0,300.0h0.9v1.2h-0.9zM110.2,308.7h1.4v0.9h-1.4zM105.2,302.8h0.8v1.4h-0.8zM116.1,305.6h1.3v1.1h-1.3zM105.9,310.6h1.3v1.4h-1.3zM115.3,302.2h1.2v1.1h-1.2zM104.1,308.7h1.5v1.0h-1.5z" fill="#9beb6a"/>
<path d="M78.6,345.6h1.9v1.3h-1.9zM63.6,364.7h1.6v1.7h-1.6zM70.4,362.5h1.7v1.9h-1.7zM69.4,358.7h1.6v1.3h-1.6zM62.8,355.3h1.1v1.9h-1.1zM59.7,365.5h1.3v1.1h-1.3zM77.0,355.7h1.7v1.7h-1.7zM67.3,361.8h1.8v1.9h-1.8zM58.5,363.4h1.9v1.9h-1.9zM75.2,344.3h1.1v1.1h-1.1zM78.9,341.6h1.3v1.4h-1.3zM64.9,358.4h1.4v1.3h-1.4zM69.4,360.3h1.3v1.7h-1.3zM72.4,341.9h1.9v1.1h-1.9zM80.8,340.4h1.0v1.2h-1.0zM71.0,361.1h1.2v1.5h-1.2zM66.8,362.3h1.3v1.9h-1.3zM77.2,351.2h1.1v1.6h-1.1zM58.9,360.8h1.7v1.8h-1.7zM75.1,346.5h1.4v1.4h-1.4zM82.9,337.6h1.9v1.0h-1.9zM67.7,364.0h1.2v1.5h-1.2zM72.2,359.7h1.8v1.6h-1.8zM61.1,362.6h1.7v1.7h-1.7zM82.7,342.7h1.2v1.3h-1.2zM59.5,366.6h1.1v1.4h-1.1zM78.2,349.2h1.2v1.6h-1.2zM68.3,360.9h1.7v1.5h-1.7zM75.2,350.1h1.1v1.6h-1.1zM68.5,359.3h1.9v1.4h-1.9zM73.5,359.5h1.4v1.2h-1.4zM75.5,349.8h1.3v1.6h-1.3zM75.1,343.1h1.4v1.5h-1.4zM74.9,348.3h1.7v1.9h-1.7zM61.9,356.4h1.8v1.4h-1.8zM61.3,360.6h1.9v1.5h-1.9zM72.5,358.5h1.5v1.6h-1.5zM62.7,357.4h1.4v1.8h-1.4zM68.9,357.8h1.4v1.3h-1.4zM63.1,359.3h1.9v1.5h-1.9zM63.0,361.2h1.4v1.2h-1.4zM60.3,360.4h1.8v1.6h-1.8zM70.4,353.3h1.2v2.0h-1.2zM67.0,355.9h1.8v1.8h-1.8zM72.7,338.9h1.8v1.4h-1.8zM81.7,343.6h1.4v1.3h-1.4zM65.4,350.6h1.4v1.6h-1.4zM76.0,346.8h1.9v1.9h-1.9zM58.2,362.1h1.9v1.8h-1.9zM60.7,362.2h1.6v1.0h-1.6zM75.9,343.1h1.1v1.1h-1.1zM63.4,360.4h1.3v1.2h-1.3zM61.5,364.2h1.6v1.8h-1.6zM62.3,357.7h1.5v1.7h-1.5zM69.5,363.9h1.6v1.3h-1.6zM71.1,336.7h1.5v1.1h-1.5zM71.0,351.2h1.5v1.9h-1.5zM70.4,353.4h1.7v1.8h-1.7zM67.6,348.6h2.0v1.1h-2.0zM75.4,355.8h1.0v1.6h-1.0zM71.6,350.8h1.9v1.0h-1.9zM66.5,363.2h1.4v1.5h-1.4zM72.1,360.2h1.2v1.4h-1.2zM69.0,353.1h1.8v1.3h-1.8zM81.0,348.1h1.5v1.3h-1.5zM65.4,354.2h1.6v1.8h-1.6zM74.8,355.5h1.7v1.6h-1.7zM76.7,341.8h1.7v1.5h-1.7zM79.1,338.1h1.2v1.0h-1.2zM75.9,347.0h1.8v1.8h-1.8zM73.1,343.3h1.3v1.4h-1.3zM65.9,349.0h1.6v1.9h-1.6zM68.7,338.2h1.6v1.2h-1.6zM60.1,366.7h1.1v1.9h-1.1zM77.8,342.8h1.7v1.2h-1.7zM58.0,360.3h1.7v1.9h-1.7zM78.1,337.6h1.6v1.7h-1.6zM64.0,366.6h1.7v1.0h-1.7zM80.7,337.4h1.3v1.7h-1.3zM61.4,363.2h1.5v1.1h-1.5zM67.4,353.8h1.4v1.7h-1.4zM60.8,361.1h1.4v1.6h-1.4zM75.1,348.6h1.4v1.8h-1.4zM73.3,344.4h1.1v2.0h-1.1zM66.3,354.8h2.0v1.8h-2.0zM74.3,345.0h1.4v1.9h-1.4zM67.6,357.4h1.6v1.9h-1.6zM80.4,344.1h1.0v1.3h-1.0zM69.0,354.2h1.8v1.9h-1.8zM57.8,362.3h1.8v1.9h-1.8zM73.4,343.8h1.9v1.8h-1.9zM72.9,361.1h1.2v1.8h-1.2zM84.1,342.5h1.6v1.7h-1.6zM64.0,359.6h1.8v1.5h-1.8zM59.1,361.4h1.8v1.2h-1.8zM70.6,354.2h1.2v1.2h-1.2zM61.8,357.9h1.4v1.6h-1.4zM68.4,351.9h1.1v1.0h-1.1zM79.8,340.0h1.6v1.3h-1.6zM71.9,335.5h1.0v2.0h-1.0zM73.3,343.4h1.8v1.4h-1.8zM83.4,336.9h1.6v1.4h-1.6zM60.0,366.5h1.3v1.6h-1.3zM76.3,347.8h1.4v1.2h-1.4zM81.3,336.4h1.8v1.7h-1.8zM76.5,344.7h1.6v1.8h-1.6zM76.6,335.2h1.7v1.2h-1.7zM63.0,365.6h1.9v1.9h-1.9zM59.4,365.4h1.8v1.6h-1.8zM69.9,346.0h1.8v1.5h-1.8zM75.1,339.5h1.2v1.1h-1.2zM77.6,353.1h1.1v1.9h-1.1zM81.4,345.8h1.2v1.5h-1.2zM65.9,364.6h1.1v2.0h-1.1zM58.2,364.3h1.7v1.2h-1.7zM83.0,336.7h1.7v1.3h-1.7zM80.4,346.0h1.1v1.0h-1.1zM83.5,342.0h1.6v1.1h-1.6zM61.8,360.2h1.7v1.2h-1.7zM74.5,351.2h1.3v1.2h-1.3zM74.6,358.2h1.8v1.6h-1.8zM78.2,348.3h1.7v1.1h-1.7zM80.5,345.9h1.8v1.9h-1.8zM82.3,343.6h1.2v1.8h-1.2zM67.5,354.4h1.0v1.5h-1.0zM69.7,351.8h1.1v1.7h-1.1zM66.0,358.3h1.4v1.8h-1.4zM58.3,363.6h2.0v1.5h-2.0zM71.7,352.3h1.5v1.0h-1.5zM85.1,342.2h1.2v1.1h-1.2zM63.9,361.8h1.0v1.1h-1.0zM77.2,341.2h1.0v1.6h-1.0zM73.6,352.1h1.7v1.1h-1.7zM71.1,351.3h1.3v1.1h-1.3zM78.6,340.2h1.8v1.9h-1.8zM68.0,348.7h1.8v1.5h-1.8zM79.5,346.0h1.2v1.3h-1.2zM75.2,346.8h1.5v1.1h-1.5zM69.3,351.5h1.0v1.1h-1.0zM82.7,335.9h1.6v1.3h-1.6zM76.6,343.8h1.5v1.9h-1.5zM74.9,343.1h1.5v1.4h-1.5z" fill="#66dd22"/>
<path d="M84.6,344.3h1.0v1.3h-1.0zM64.4,350.2h1.2v0.9h-1.2zM73.4,356.3h0.9v1.3h-0.9zM70.1,352.9h1.2v1.1h-1.2zM63.1,351.7h1.1v1.2h-1.1zM82.0,342.7h1.2v1.1h-1.2zM64.9,367.4h1.0v1.3h-1.0zM82.3,349.3h0.8v1.1h-0.8zM69.5,359.1h0.9v1.0h-0.9zM66.9,357.1h1.2v1.4h-1.2zM79.0,350.5h1.3v1.3h-1.3zM83.6,339.0h1.4v0.8h-1.4zM73.4,348.6h1.3v1.4h-1.3zM74.5,347.3h1.1v1.1h-1.1zM77.9,344.5h1.1v1.2h-1.1zM71.3,349.5h0.9v1.0h-0.9zM73.7,337.7h1.4v1.0h-1.4zM84.9,341.5h1.1v1.4h-1.1zM73.2,351.2h1.4v1.3h-1.4zM71.8,351.9h1.3v1.1h-1.3zM67.1,354.4h1.0v1.5h-1.0zM76.5,352.1h0.9v1.1h-0.9zM68.4,353.3h1.2v1.4h-1.2zM69.5,355.4h1.5v1.0h-1.5zM72.2,361.7h0.9v1.0h-0.9zM71.7,338.4h1.4v1.3h-1.4zM82.8,348.7h0.9v1.0h-0.9zM71.6,351.5h0.9v0.9h-0.9zM75.2,354.7h1.0v1.5h-1.0zM75.3,336.2h1.1v1.4h-1.1zM65.6,357.6h0.8v1.0h-0.8zM76.3,341.3h1.1v1.2h-1.1zM64.4,356.1h1.2v1.5h-1.2zM73.5,348.4h0.9v0.9h-0.9zM79.0,338.3h0.9v0.9h-0.9z" fill="#9beb6a"/>
<path d="M42.2,373.6h1.6v1.8h-1.6zM44.2,369.6h1.7v1.4h-1.7zM39.4,369.1h1.1v1.9h-1.1zM42.7,369.8h1.4v1.4h-1.4zM41.5,372.0h1.2v1.0h-1.2zM39.9,370.1h1.7v1.2h-1.7zM41.9,373.3h1.2v1.2h-1.2zM40.9,368.5h2.0v1.3h-2.0zM42.5,367.9h1.5v1.4h-1.5z" fill="#66dd22"/>
<path d="M40.8,369.0h0.9v1.0h-0.9zM43.3,369.7h0.9v1.3h-0.9z" fill="#9beb6a"/>
<path d="M91.4,375.4h1.8v1.1h-1.8zM92.8,380.5h1.8v1.2h-1.8zM92.4,379.5h1.4v2.0h-1.4zM93.0,375.0h1.5v1.1h-1.5zM93.8,375.3h1.9v1.6h-1.9zM92.5,375.2h1.6v1.2h-1.6zM93.1,377.9h1.3v1.8h-1.3z" fill="#66dd22"/>
<path d="M92.5,378.9h1.2v1.0h-1.2zM92.6,373.8h0.9v1.4h-0.9z" fill="#9beb6a"/>
<path d="M177.3,263.3h1.1v1.6h-1.1zM177.4,262.5h1.3v1.1h-1.3zM177.2,261.1h1.1v1.7h-1.1zM177.1,262.0h1.9v1.8h-1.9z" fill="#66dd22"/>
<path d="M176.5,261.4h0.8v1.3h-0.8zM178.7,261.8h1.1v1.3h-1.1z" fill="#9beb6a"/>
<path d="M224.8,157.2h1.8v1.4h-1.8zM224.5,156.9h1.1v1.9h-1.1zM224.9,159.6h1.0v1.0h-1.0zM222.6,157.0h1.3v1.4h-1.3z" fill="#66dd22"/>
<path d="M222.2,157.6h1.2v0.9h-1.2zM225.4,158.9h1.3v1.0h-1.3z" fill="#9beb6a"/>
<path d="M178.7,263.4h1.3v1.0h-1.3zM180.3,263.9h1.3v1.0h-1.3zM180.4,263.0h1.0v1.2h-1.0zM180.0,260.4h1.7v1.4h-1.7z" fill="#66dd22"/>
<path d="M180.0,264.1h1.0v0.9h-1.0zM180.8,262.1h1.5v1.3h-1.5z" fill="#9beb6a"/>
<path d="M137.7,283.0h1.6v1.5h-1.6zM136.1,281.1h1.9v1.1h-1.9zM137.8,278.3h1.7v1.8h-1.7zM135.3,281.3h2.0v1.6h-2.0zM136.7,279.5h1.1v1.4h-1.1zM136.1,279.2h1.3v1.1h-1.3zM137.5,282.0h1.2v1.2h-1.2z" fill="#66dd22"/>
<path d="M136.6,280.7h1.5v1.0h-1.5zM135.5,283.3h0.9v1.2h-0.9z" fill="#9beb6a"/>
<g clip-path="url(#landclip)"><path d="M378.3,70 L390,78.3 L396.7,86.7 L396.7,95 L390,105 L383.3,115 L376.7,121.7 L365,128.3 L353.3,133.3 L340,138.3 L336.7,141.7 L326.7,150 L318,158 L308,167 L300,175 L290,185 L278,196.7 L268,208 L258,215 L250,225 L243,235 L231.7,243 L226.7,251.7 L216.7,256.7 L208,266.7 L198,276.7 L196.7,281.7 L191.7,291.7 L187.5,301.7 L183.3,310 L178.3,313.3 L179,328 L181,343 L183.3,356.7 L186.7,373.3 L188.3,388.3 L185,401.7 L178.3,411.7 L165,420 L156.7,423 L150,433 L143,443 L136.7,450 L125,458 L111.7,463 L98,473 L90,483 L83,492" fill="none" stroke="#e3b0d1" stroke-width="16.5" stroke-linejoin="round"/></g>
<polygon points="0,0 315.8,0 313.5,10 309,20 303,30 296.5,39 290,46.7 282,58 270,75 258,92 246,109 235,125 222,140 205,160 188.9,180 176,196 163.7,211 145.6,231.9 126,253 111.1,270 99.3,280.4 87.4,292.2 75.6,307 62.2,320.4 48.9,333.7 40,342.6 30.5,351 22,361 16.7,366.7 0,376.9" fill="#0085ac"/>
<path d="M163.6,0L0,186" stroke="#a9b0cc" stroke-width="1.5" stroke-dasharray="1.3 0.9" fill="none" opacity="0.9"/>
<path d="M50,0L0,56.7" stroke="#7fb4cc" stroke-width="1" stroke-dasharray="1.5 1" fill="none" opacity="0.75"/>
<path d="M223,0L311,14.5" stroke="#9fb5c8" stroke-width="0.8" stroke-dasharray="1.5 1" fill="none" opacity="0.0"/>
<path d="M222,0L240,11.7L293,45" stroke="#b9d0de" stroke-width="1" stroke-dasharray="1.5 1" fill="none" opacity="0.8"/>
<path d="M0,322L29.6,351" stroke="#dfeaf2" stroke-width="1.3" stroke-dasharray="1.6 0.9" fill="none" opacity="0.9"/>
<path d="M311.5,14.5 L371,64.5 L378.3,70 L390,78.3 L396.7,86.7 L396.7,95 L390,105 L383.3,115 L376.7,121.7 L365,128.3 L353.3,133.3 L340,138.3 L336.7,141.7 L326.7,150 L318,158 L308,167 L300,175 L290,185 L278,196.7 L268,208 L258,215 L250,225 L243,235 L231.7,243 L226.7,251.7 L216.7,256.7 L208,266.7 L198,276.7 L196.7,281.7 L191.7,291.7 L187.5,301.7 L183.3,310 L178.3,313.3 L179,328 L181,343 L183.3,356.7 L186.7,373.3 L188.3,388.3 L185,401.7 L178.3,411.7 L165,420 L156.7,423 L150,433 L143,443 L136.7,450 L125,458 L111.7,463 L98,473 L90,483 L83,492" fill="none" stroke="#adadad" stroke-width="5.6" stroke-linejoin="round"/>
<path d="M311.5,14.5 L371,64.5 L378.3,70 L390,78.3 L396.7,86.7 L396.7,95 L390,105 L383.3,115 L376.7,121.7 L365,128.3 L353.3,133.3 L340,138.3 L336.7,141.7 L326.7,150 L318,158 L308,167 L300,175 L290,185 L278,196.7 L268,208 L258,215 L250,225 L243,235 L231.7,243 L226.7,251.7 L216.7,256.7 L208,266.7 L198,276.7 L196.7,281.7 L191.7,291.7 L187.5,301.7 L183.3,310 L178.3,313.3 L179,328 L181,343 L183.3,356.7 L186.7,373.3 L188.3,388.3 L185,401.7 L178.3,411.7 L165,420 L156.7,423 L150,433 L143,443 L136.7,450 L125,458 L111.7,463 L98,473 L90,483 L83,492" fill="none" stroke="#0c0c0c" stroke-width="4.8" stroke-dasharray="3.2 1.8" stroke-linejoin="round"/>
<path d="M311.5,14.5 L371,64.5 L378.3,70 L390,78.3 L396.7,86.7 L396.7,95 L390,105 L383.3,115 L376.7,121.7 L365,128.3 L353.3,133.3 L340,138.3 L336.7,141.7 L326.7,150 L318,158 L308,167 L300,175 L290,185 L278,196.7 L268,208 L258,215 L250,225 L243,235 L231.7,243 L226.7,251.7 L216.7,256.7 L208,266.7 L198,276.7 L196.7,281.7 L191.7,291.7 L187.5,301.7 L183.3,310 L178.3,313.3 L179,328 L181,343 L183.3,356.7 L186.7,373.3 L188.3,388.3 L185,401.7 L178.3,411.7 L165,420 L156.7,423 L150,433 L143,443 L136.7,450 L125,458 L111.7,463 L98,473 L90,483 L83,492" fill="none" stroke="#c6c2c6" stroke-width="2.9" stroke-linejoin="round"/>
<path d="M311.5,14.5 L371,64.5 L378.3,70 L390,78.3 L396.7,86.7 L396.7,95 L390,105 L383.3,115 L376.7,121.7 L365,128.3 L353.3,133.3 L340,138.3 L336.7,141.7 L326.7,150 L318,158 L308,167 L300,175 L290,185 L278,196.7 L268,208 L258,215 L250,225 L243,235 L231.7,243 L226.7,251.7 L216.7,256.7 L208,266.7 L198,276.7 L196.7,281.7 L191.7,291.7 L187.5,301.7 L183.3,310 L178.3,313.3 L179,328 L181,343 L183.3,356.7 L186.7,373.3 L188.3,388.3 L185,401.7 L178.3,411.7 L165,420 L156.7,423 L150,433 L143,443 L136.7,450 L125,458 L111.7,463 L98,473 L90,483 L83,492" fill="none" stroke="#333" stroke-width="0.7" stroke-dasharray="2.4 2.4" stroke-dashoffset="1.3" stroke-linejoin="round"/>
<path d="M16.7,366.7 L28.7,387.5 L37.5,402.5 L43.7,412.5 L48.7,430 L55,452.5 L66,475 L72.5,490 L83,492" fill="none" stroke="#b98a86" stroke-width="0.7"/>
<path d="M47,424L48.7,430L55,452.5L59,462" fill="none" stroke="#f0a0a8" stroke-width="3.4"/><path d="M47,424L48.7,430L55,452.5L59,462" fill="none" stroke="#d8232a" stroke-width="2"/>
<rect x="0" y="0" width="411" height="1" fill="#ffffff" opacity="0.55"/>
<rect x="381.3" y="4.2" width="26" height="22.2" fill="#fcfcfc" stroke="#b0b0b0" stroke-width="0.8"/>
<path d="M377.5,4V26.5" stroke="#2a2a2a" stroke-width="1.1" fill="none"/>
<path d="M377.5,15L370,15.8L352.5,35.5" stroke="#1a1a1a" stroke-width="1.2" fill="none"/>
<path d="M350.5,37.8L352,32.6L355.6,35.8Z" fill="#222"/>
<g font-size="6.1" fill="#1a1a1a" stroke="#1a1a1a" stroke-width="0.15" text-anchor="middle">
<text x="394.6" y="10.7" textLength="21.4" lengthAdjust="spacingAndGlyphs">Northern</text>
<text x="394.8" y="17.6" textLength="15.2" lengthAdjust="spacingAndGlyphs">No Go</text>
<text x="394.6" y="24.4" textLength="12.6" lengthAdjust="spacingAndGlyphs">Zone</text>
</g>
<g fill="#ffffff" font-size="10.2" font-weight="bold">
<text transform="translate(51.5,135.5) rotate(-49.8)" textLength="126.8" lengthAdjust="spacingAndGlyphs">6 nautical miles (horizon)</text>
<text transform="translate(61.5,144) rotate(-49.8)" textLength="127.3" lengthAdjust="spacingAndGlyphs" font-size="10" font-weight="bold">Effective since April 2006</text>
</g>
</g>
<path d="M72.5,490L82,520" stroke="#666" stroke-width="0.6" fill="none"/>
<g transform="translate(371.9,60.9) scale(1)"><ellipse cx="0" cy="2.1" rx="10.1" ry="8.5" fill="#c9141c"/><ellipse cx="0" cy="-0.9" rx="10.1" ry="8.3" fill="#ea1820"/><ellipse cx="0" cy="-0.7" rx="8.6" ry="7" fill="none" stroke="#ffe4e4" stroke-width="1.1"/><path d="M-6.1,-5.7L6.1,4.3M6.1,-5.7L-6.1,4.3" stroke="#fff" stroke-width="1.3" fill="none"/></g>
<g transform="translate(317.9,157.2) scale(0.87)"><ellipse cx="0" cy="2.1" rx="10.1" ry="8.5" fill="#c9141c"/><ellipse cx="0" cy="-0.9" rx="10.1" ry="8.3" fill="#ea1820"/><ellipse cx="0" cy="-0.7" rx="8.6" ry="7" fill="none" stroke="#ffe4e4" stroke-width="1.1"/><path d="M-6.1,-5.7L6.1,4.3M6.1,-5.7L-6.1,4.3" stroke="#fff" stroke-width="1.3" fill="none"/></g>
<g transform="translate(308,165.4) scale(0.87)"><ellipse cx="0" cy="2.1" rx="10.1" ry="8.5" fill="#c9141c"/><ellipse cx="0" cy="-0.9" rx="10.1" ry="8.3" fill="#ea1820"/><ellipse cx="0" cy="-0.7" rx="8.6" ry="7" fill="none" stroke="#ffe4e4" stroke-width="1.1"/><path d="M-6.1,-5.7L6.1,4.3M6.1,-5.7L-6.1,4.3" stroke="#fff" stroke-width="1.3" fill="none"/></g>
<g transform="translate(137.1,449.9) scale(1)"><ellipse cx="0" cy="2.1" rx="10.1" ry="8.5" fill="#ababab"/><ellipse cx="0" cy="-0.9" rx="10.1" ry="8.3" fill="#bcbcbc"/><ellipse cx="0" cy="-0.7" rx="8.6" ry="7" fill="none" stroke="#ffffff" stroke-width="1.1"/><path d="M-6.1,-5.7L6.1,4.3M6.1,-5.7L-6.1,4.3" stroke="#fff" stroke-width="1.3" fill="none"/></g>
<g transform="translate(62.6,463.9) scale(1)"><ellipse cx="0" cy="2.1" rx="10.1" ry="8.5" fill="#c9141c"/><ellipse cx="0" cy="-0.9" rx="10.1" ry="8.3" fill="#ea1820"/><ellipse cx="0" cy="-0.7" rx="8.6" ry="7" fill="none" stroke="#ffe4e4" stroke-width="1.1"/><path d="M-6.1,-5.7L6.1,4.3M6.1,-5.7L-6.1,4.3" stroke="#fff" stroke-width="1.3" fill="none"/></g>
<g transform="translate(79.6,493.8) scale(1)"><ellipse cx="0" cy="2.1" rx="10.1" ry="8.5" fill="#c9141c"/><ellipse cx="0" cy="-0.9" rx="10.1" ry="8.3" fill="#ea1820"/><ellipse cx="0" cy="-0.7" rx="8.6" ry="7" fill="none" stroke="#ffe4e4" stroke-width="1.1"/><path d="M-6.1,-5.7L6.1,4.3M6.1,-5.7L-6.1,4.3" stroke="#fff" stroke-width="1.3" fill="none"/></g>
<text x="410" y="63" font-size="10" font-weight="bold" fill="#dc0a14" stroke="#dc0a14" stroke-width="0.45" textLength="20" lengthAdjust="spacingAndGlyphs">Erez</text>
<text x="382.5" y="71.7" font-size="10" font-weight="bold" fill="#dc0a14" stroke="#dc0a14" stroke-width="0.45" textLength="73.3" lengthAdjust="spacingAndGlyphs">Crossing Point</text>
<text x="335.8" y="160.3" font-size="10.5" font-weight="normal" fill="#dc0a14" stroke="#dc0a14" stroke-width="0.4" textLength="45" lengthAdjust="spacingAndGlyphs">Nahal Oz</text>
<text x="320.8" y="170" font-size="10" font-weight="bold" fill="#dc0a14" stroke="#dc0a14" stroke-width="0.45" textLength="73.4" lengthAdjust="spacingAndGlyphs">Crossing Point</text>
<text x="311.7" y="185.8" font-size="10" font-weight="bold" fill="#dc0a14" stroke="#dc0a14" stroke-width="0.45" textLength="25.8" lengthAdjust="spacingAndGlyphs">Karni</text>
<text x="286.7" y="195" font-size="10" font-weight="bold" fill="#dc0a14" stroke="#dc0a14" stroke-width="0.45" textLength="73.3" lengthAdjust="spacingAndGlyphs">Crossing Point</text>
<text x="163.5" y="457.9" font-size="10" font-weight="bold" fill="#dc0a14" stroke="#dc0a14" stroke-width="0.45" textLength="20.7" lengthAdjust="spacingAndGlyphs">Sufa</text>
<text x="136.6" y="465.6" font-size="10" font-weight="bold" fill="#dc0a14" stroke="#dc0a14" stroke-width="0.45" textLength="73.6" lengthAdjust="spacingAndGlyphs">Crossing Point</text>
<text x="15.3" y="474.7" font-size="10.5" font-weight="normal" fill="#dc0a14" stroke="#dc0a14" stroke-width="0.4" textLength="25.9" lengthAdjust="spacingAndGlyphs">Rafah</text>
<text x="-7.6" y="483.9" font-size="10" font-weight="bold" fill="#dc0a14" stroke="#dc0a14" stroke-width="0.45" textLength="73.3" lengthAdjust="spacingAndGlyphs">Crossing Point</text>
<text x="98.4" y="495.5" font-size="10.5" font-weight="normal" fill="#dc0a14" stroke="#dc0a14" stroke-width="0.4" textLength="72.1" lengthAdjust="spacingAndGlyphs">Kerem Shalom</text>
<text x="97.8" y="503.7" font-size="10" font-weight="bold" fill="#dc0a14" stroke="#dc0a14" stroke-width="0.45" textLength="73.3" lengthAdjust="spacingAndGlyphs">Crossing Point</text>
<rect x="415.3" y="0" width="304.7" height="48.6" fill="#0599fd"/>
<text x="520.8" y="34.8" font-size="36.3" font-weight="bold" fill="#ffffff" textLength="93.2" lengthAdjust="spacingAndGlyphs">GAZA</text>
<circle cx="441.5" cy="134.3" r="4.8" fill="none" stroke="#111" stroke-width="1.05"/><circle cx="441.5" cy="249.6" r="4.8" fill="none" stroke="#111" stroke-width="1.05"/><circle cx="441.6" cy="394.6" r="4.8" fill="none" stroke="#111" stroke-width="1.05"/>
<text x="462.17" y="139.9" font-size="19.3" fill="#000" xml:space="preserve" textLength="224.61" lengthAdjust="spacingAndGlyphs"><tspan>1.8 million inhabitants,</tspan></text>
<text x="461.84" y="168.4" font-size="19.3" fill="#000" xml:space="preserve" textLength="209.59" lengthAdjust="spacingAndGlyphs"><tspan font-weight="bold">half of them children</tspan></text>
<text x="670.2" y="168.4" font-size="19.3" fill="#000">,</text>
<text x="462.02" y="197.3" font-size="19.3" fill="#000" xml:space="preserve" textLength="95.94" lengthAdjust="spacingAndGlyphs"><tspan>in 378 km</tspan></text>
<text x="462.46" y="255.2" font-size="19.3" fill="#000" xml:space="preserve" textLength="103.83" lengthAdjust="spacingAndGlyphs"><tspan>One of the</tspan></text>
<text x="571.95" y="255.2" font-size="19.3" fill="#000" xml:space="preserve" textLength="73.11" lengthAdjust="spacingAndGlyphs"><tspan font-weight="bold">highest</tspan></text>
<text x="461.97" y="284" font-size="19.3" fill="#000" xml:space="preserve" textLength="203.29" lengthAdjust="spacingAndGlyphs"><tspan font-weight="bold">population densities</tspan></text>
<text x="672.51" y="284" font-size="19.3" fill="#000" xml:space="preserve" textLength="17.02" lengthAdjust="spacingAndGlyphs"><tspan>in</tspan></text>
<text x="463.14" y="312.6" font-size="19.3" fill="#000" xml:space="preserve" textLength="93.25" lengthAdjust="spacingAndGlyphs"><tspan>the world</tspan></text>
<text x="462.61" y="341" font-size="19.3" fill="#000" xml:space="preserve" textLength="216.99" lengthAdjust="spacingAndGlyphs"><tspan>(4,726 persons per km</tspan></text>
<text x="462.67" y="400.2" font-size="19.3" fill="#000" xml:space="preserve" textLength="196.47" lengthAdjust="spacingAndGlyphs"><tspan>Closure since 2007 =</tspan></text>
<text x="462.6" y="428.3" font-size="19.3" fill="#000" xml:space="preserve" textLength="132.74" lengthAdjust="spacingAndGlyphs"><tspan font-weight="bold">deteriorating</tspan></text>
<text x="461.84" y="457.2" font-size="19.3" fill="#000" xml:space="preserve" textLength="228.18" lengthAdjust="spacingAndGlyphs"><tspan font-weight="bold">humanitarian situation</tspan></text>
<text x="558.2" y="190.3" font-size="13.3" fill="#000" textLength="7.6" lengthAdjust="spacingAndGlyphs">2</text>
<text x="680.8" y="334.3" font-size="13" font-weight="bold" fill="#000" textLength="7.6" lengthAdjust="spacingAndGlyphs">2</text>
<text x="689.8" y="341" font-size="19.3" fill="#000">)</text>
</svg>
</body></html>
